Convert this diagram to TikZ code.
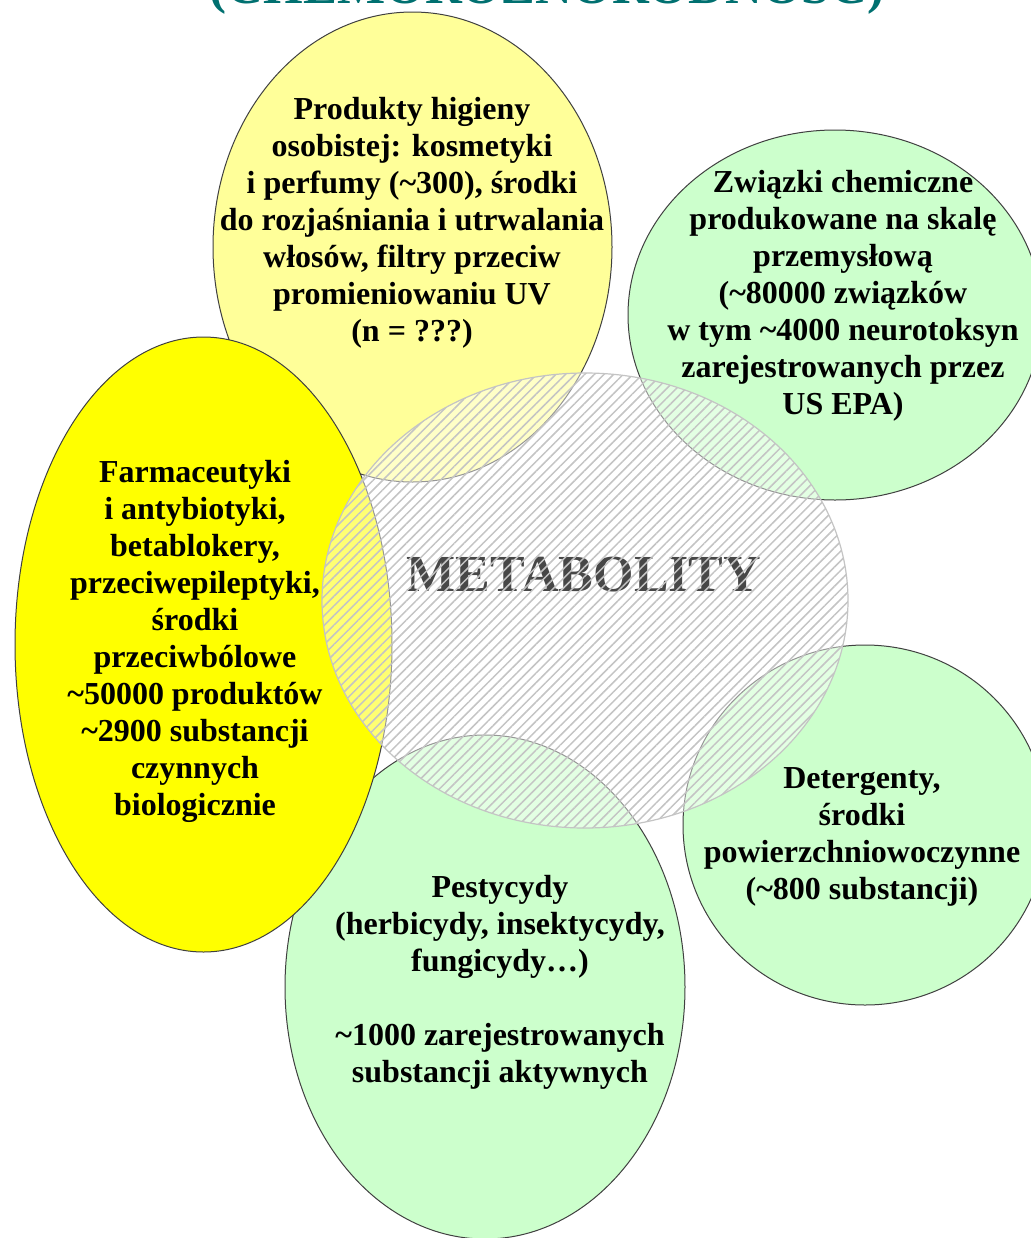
\documentclass[tikz,border=0pt]{standalone}
\usepackage{fontspec}
\setmainfont{Liberation Serif}
\usetikzlibrary{shapes.geometric}
\usetikzlibrary{patterns.meta}
\definecolor{LYellow}{HTML}{FFFF99}
\definecolor{BYellow}{HTML}{FFFF00}
\definecolor{LGreen}{HTML}{CCFFCC}
\definecolor{Teal}{HTML}{007070}
\definecolor{Hatch}{HTML}{C4C4C4}

\begin{document}
\begin{tikzpicture}[x=0.5pt, y=-0.5pt,
    blob/.style={ellipse, draw=black!75, line width=0.5pt, inner sep=0pt},
    lbl/.style={align=center, inner sep=0pt, font=\bfseries\fontsize{16}{18.5}\selectfont}]

    \useasboundingbox (0,0) rectangle (1030,1238);
    \fill[white] (0,0) rectangle (1030,1238);

    % Title (cut by the page)
    \node[Teal, anchor=base, inner sep=0pt, font=\bfseries\fontsize{25.5}{30}\selectfont] (title)
        at (547,3) {(CHEMORÓŻNORODNOŚĆ)};

    % Groups
    \node[blob, fill=LYellow, minimum width=199.5pt, minimum height=235pt] (hyg) at (412.5,247) {};
    \node[blob, fill=LGreen, minimum width=200pt, minimum height=252pt] (pest) at (485,987) {};
    \node[blob, fill=LGreen, minimum width=207pt, minimum height=185pt] (chem) at (835,315) {};
    \node[blob, fill=LGreen, minimum width=182pt, minimum height=180pt] (det) at (865,825) {};
    \node[blob, fill=BYellow, minimum width=188.5pt, minimum height=307.5pt] (farm) at (203.5,644.5) {};

    % Labels
    \node[lbl] (hyg-txt) at (412,223) {Produkty higieny\\osobistej: kosmetyki\\i perfumy (\textasciitilde300), środki\\do rozjaśniania i utrwalania\\włosów, filtry przeciw\\promieniowaniu UV\\(n = ???)};
    \node[lbl] (chem-txt) at (843,296) {Związki chemiczne\\produkowane na skalę\\przemysłową\\(\textasciitilde80000 związków\\w tym \textasciitilde4000 neurotoksyn\\zarejestrowanych przez\\US EPA)};
    \node[lbl] (farm-txt) at (195,641) {Farmaceutyki\\i antybiotyki,\\betablokery,\\przeciwepileptyki,\\środki\\przeciwbólowe\\\textasciitilde50000 produktów\\\textasciitilde2900 substancji\\czynnych\\biologicznie};
    \node[lbl] (det-txt) at (862,837) {Detergenty,\\środki\\powierzchniowoczynne\\(\textasciitilde800 substancji)};
    \node[lbl] (pest-txt) at (500,982) {Pestycydy\\(herbicydy, insektycydy,\\fungicydy…)\\[18.5pt]\textasciitilde1000 zarejestrowanych\\substancji aktywnych};

    % Metabolites
    \node[blob, draw=none, fill=white, fill opacity=0.45, minimum width=263pt, minimum height=227.5pt] (met) at (585,600.5) {};
    \node[text=black!72, font=\bfseries\fontsize{26}{30}\selectfont] (met-txt) at (584,575) {METABOLITY};
    \fill[pattern={Lines[angle=45, distance=3.4pt, line width=0.75pt]}, pattern color=Hatch, fill opacity=0.6]
        (met.center) ellipse [x radius=263, y radius=227.5];
    \draw[Hatch, line width=0.6pt] (met.center) ellipse [x radius=263, y radius=227.5];

\end{tikzpicture}
\end{document}
